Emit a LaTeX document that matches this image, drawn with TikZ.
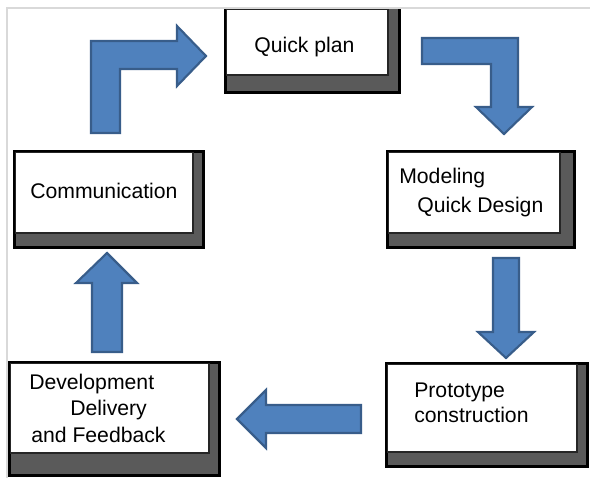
\documentclass[tikz,border=0pt]{standalone}
\usepackage{fontspec}
\setmainfont{Liberation Sans}
\definecolor{arrfill}{HTML}{4F81BD}
\definecolor{arrdraw}{HTML}{385D8A}
\definecolor{shadowgray}{HTML}{5A5A5A}
\definecolor{framegray}{HTML}{D9D9D9}
\tikzset{
  outerbox/.style={draw=black, line width=2.4pt, fill=shadowgray},
  whitebox/.style={draw=black!85, line width=0.8pt, fill=white},
  blockarrow/.style={fill=arrfill, draw=arrdraw, line width=1.6pt, line join=miter},
  lbl/.style={anchor=base west, inner sep=0pt, font=\fontsize{15.9}{18}\selectfont}
}
\begin{document}
\begin{tikzpicture}[x=0.75pt,y=-0.75pt]
\useasboundingbox (0,0) rectangle (590,478);
\fill[white] (0,0) rectangle (590,478);
% frame
\draw[framegray, line width=1.2pt] (7,478) -- (7,8) -- (590,8);

% boxes: outer shadow + white face
\fill[shadowgray] (225.5,9) rectangle (399.5,92.5);
\draw[black, line width=2.4pt] (225.5,9) -- (225.5,92.5) -- (399.5,92.5) -- (399.5,9);
\draw[whitebox] (226.5,9.5) rectangle (388,75);
\draw[outerbox] (14.5,151.5) rectangle (203.5,247.5);
\draw[whitebox] (15.5,152.5) rectangle (193,233);
\draw[outerbox] (387.5,151.5) rectangle (574.5,247.5);
\draw[whitebox] (388.5,152.5) rectangle (560,233);
\draw[outerbox] (386.5,363.5) rectangle (587.5,466.5);
\draw[whitebox] (387.5,364.5) rectangle (577,452);
\draw[outerbox] (9.5,362.5) rectangle (219.5,475.5);
\draw[whitebox] (10.5,363.5) rectangle (209,453);

% labels
\node[lbl] (qp) at (254,53) {Quick plan};
\node[lbl] (comm) at (30,199) {Communication};
\node[lbl] (mod1) at (399,184) {Modeling};
\node[lbl] (mod2) at (417,213) {Quick Design};
\node[lbl] (pro1) at (414,397) {Prototype};
\node[lbl] (pro2) at (414,422) {construction};
\node[lbl] (dev1) at (29,389) {Development};
\node[lbl] (dev2) at (70,415) {Delivery};
\node[lbl] (dev3) at (31,442) {and Feedback};

% block arrows
\draw[blockarrow] (91,133) -- (91,41) -- (177,41) -- (177,26) -- (206,56) -- (177,86) -- (177,69) -- (120,69) -- (120,133) -- cycle;
\draw[blockarrow] (422,38) -- (518,38) -- (518,107) -- (532,107) -- (504,134) -- (476,107) -- (491,107) -- (491,64) -- (422,64) -- cycle;
\draw[blockarrow] (493,258) -- (519,258) -- (519,332) -- (534,332) -- (506,358) -- (478,332) -- (493,332) -- cycle;
\draw[blockarrow] (361,405) -- (266,405) -- (266,390) -- (237,419) -- (266,448) -- (266,433) -- (361,433) -- cycle;
\draw[blockarrow] (92,352) -- (92,283) -- (76,283) -- (107,253) -- (137,283) -- (122,283) -- (122,352) -- cycle;
\end{tikzpicture}
\end{document}
